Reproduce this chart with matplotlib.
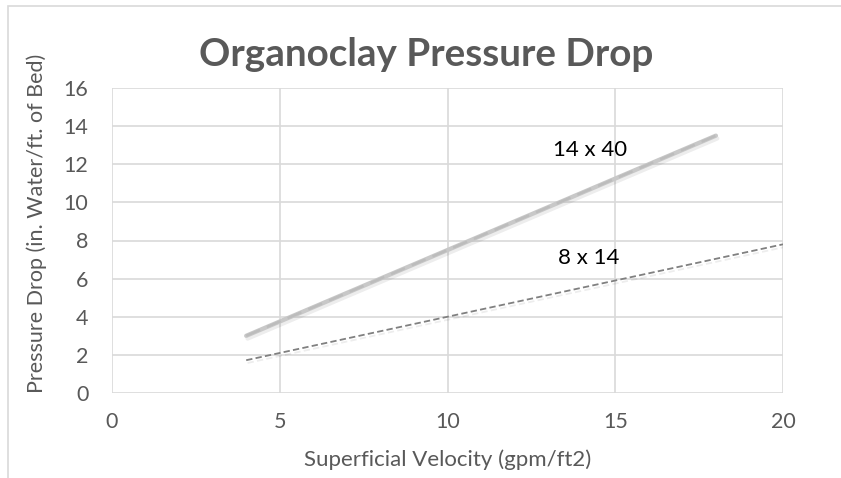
import matplotlib
matplotlib.use("Agg")
import matplotlib.pyplot as plt
import matplotlib.patheffects as pe
from matplotlib.patches import Rectangle

# Data
series_names = ["14 x 40", "8 x 14"]
x_14x40 = [4, 18]
y_14x40 = [3.0, 13.5]
x_8x14 = [4, 20]
y_8x14 = [1.72, 7.8]
x_ticks = [0, 5, 10, 15, 20]
y_ticks = [0, 2, 4, 6, 8, 10, 12, 14, 16]
label_pos = {"14 x 40": (14.25, 12.75), "8 x 14": (14.2, 7.1)}

FONT = ["Lato", "DejaVu Sans"]
plt.rcParams['font.family'] = FONT
TXT = "#595959"

fig = plt.figure(figsize=(8.41, 4.78), dpi=100)
W, H = 841, 478
ax = fig.add_axes([112 / W, 1 - 393 / H, (783 - 112) / W, (393 - 88) / H])

# outer chart border
fig.patches.append(Rectangle((8 / W, -0.1), 1.2, 1 - 6 / H + 0.1, transform=fig.transFigure,
                             fill=False, edgecolor="#d9d9d9", linewidth=1.2))

shadow = [pe.SimpleLineShadow(offset=(1.0, -2.0), shadow_color="#000000", alpha=0.07, rho=1.0), pe.Normal()]
ax.plot(x_14x40, y_14x40, color="#c8c8c8", linewidth=3.1, solid_capstyle="round",
        path_effects=shadow, zorder=3)
ax.plot(x_14x40, y_14x40, color="#bcbcbc", linewidth=1.8, dashes=(6, 3), zorder=4)
ax.plot(x_8x14, y_8x14, color="#808080", linewidth=1.3, dashes=(3.5, 1.8),
        path_effects=shadow, zorder=3)

for name in series_names:
    px, py = label_pos[name]
    ax.text(px, py, name, ha="center", va="center", fontsize=16, color="#000000")

ax.set_xlim(0, 20)
ax.set_ylim(0, 16)
ax.set_xticks(x_ticks)
ax.set_yticks(y_ticks)
ax.tick_params(length=0, labelsize=15.5, colors=TXT)
ax.tick_params(axis="x", pad=14)
ax.tick_params(axis="y", pad=17)
ax.grid(True, color="#d9d9d9", linewidth=1.2)
ax.set_axisbelow(True)
for s in ax.spines.values():
    s.set_visible(False)

ax.set_xlabel("Superficial Velocity (gpm/ft2)", fontsize=16, color=TXT, labelpad=12)
ax.set_ylabel("Pressure Drop (in. Water/ft. of Bed)", fontsize=15.5, color=TXT)
ax.yaxis.set_label_coords((47 - 112) / 671, (393 - 223) / 305)
fig.text(426 / W, 1 - 54 / H, "Organoclay Pressure Drop", ha="center", va="center",
         fontsize=27.8, fontweight="bold", color=TXT)

fig.savefig("out.png", dpi=100)
